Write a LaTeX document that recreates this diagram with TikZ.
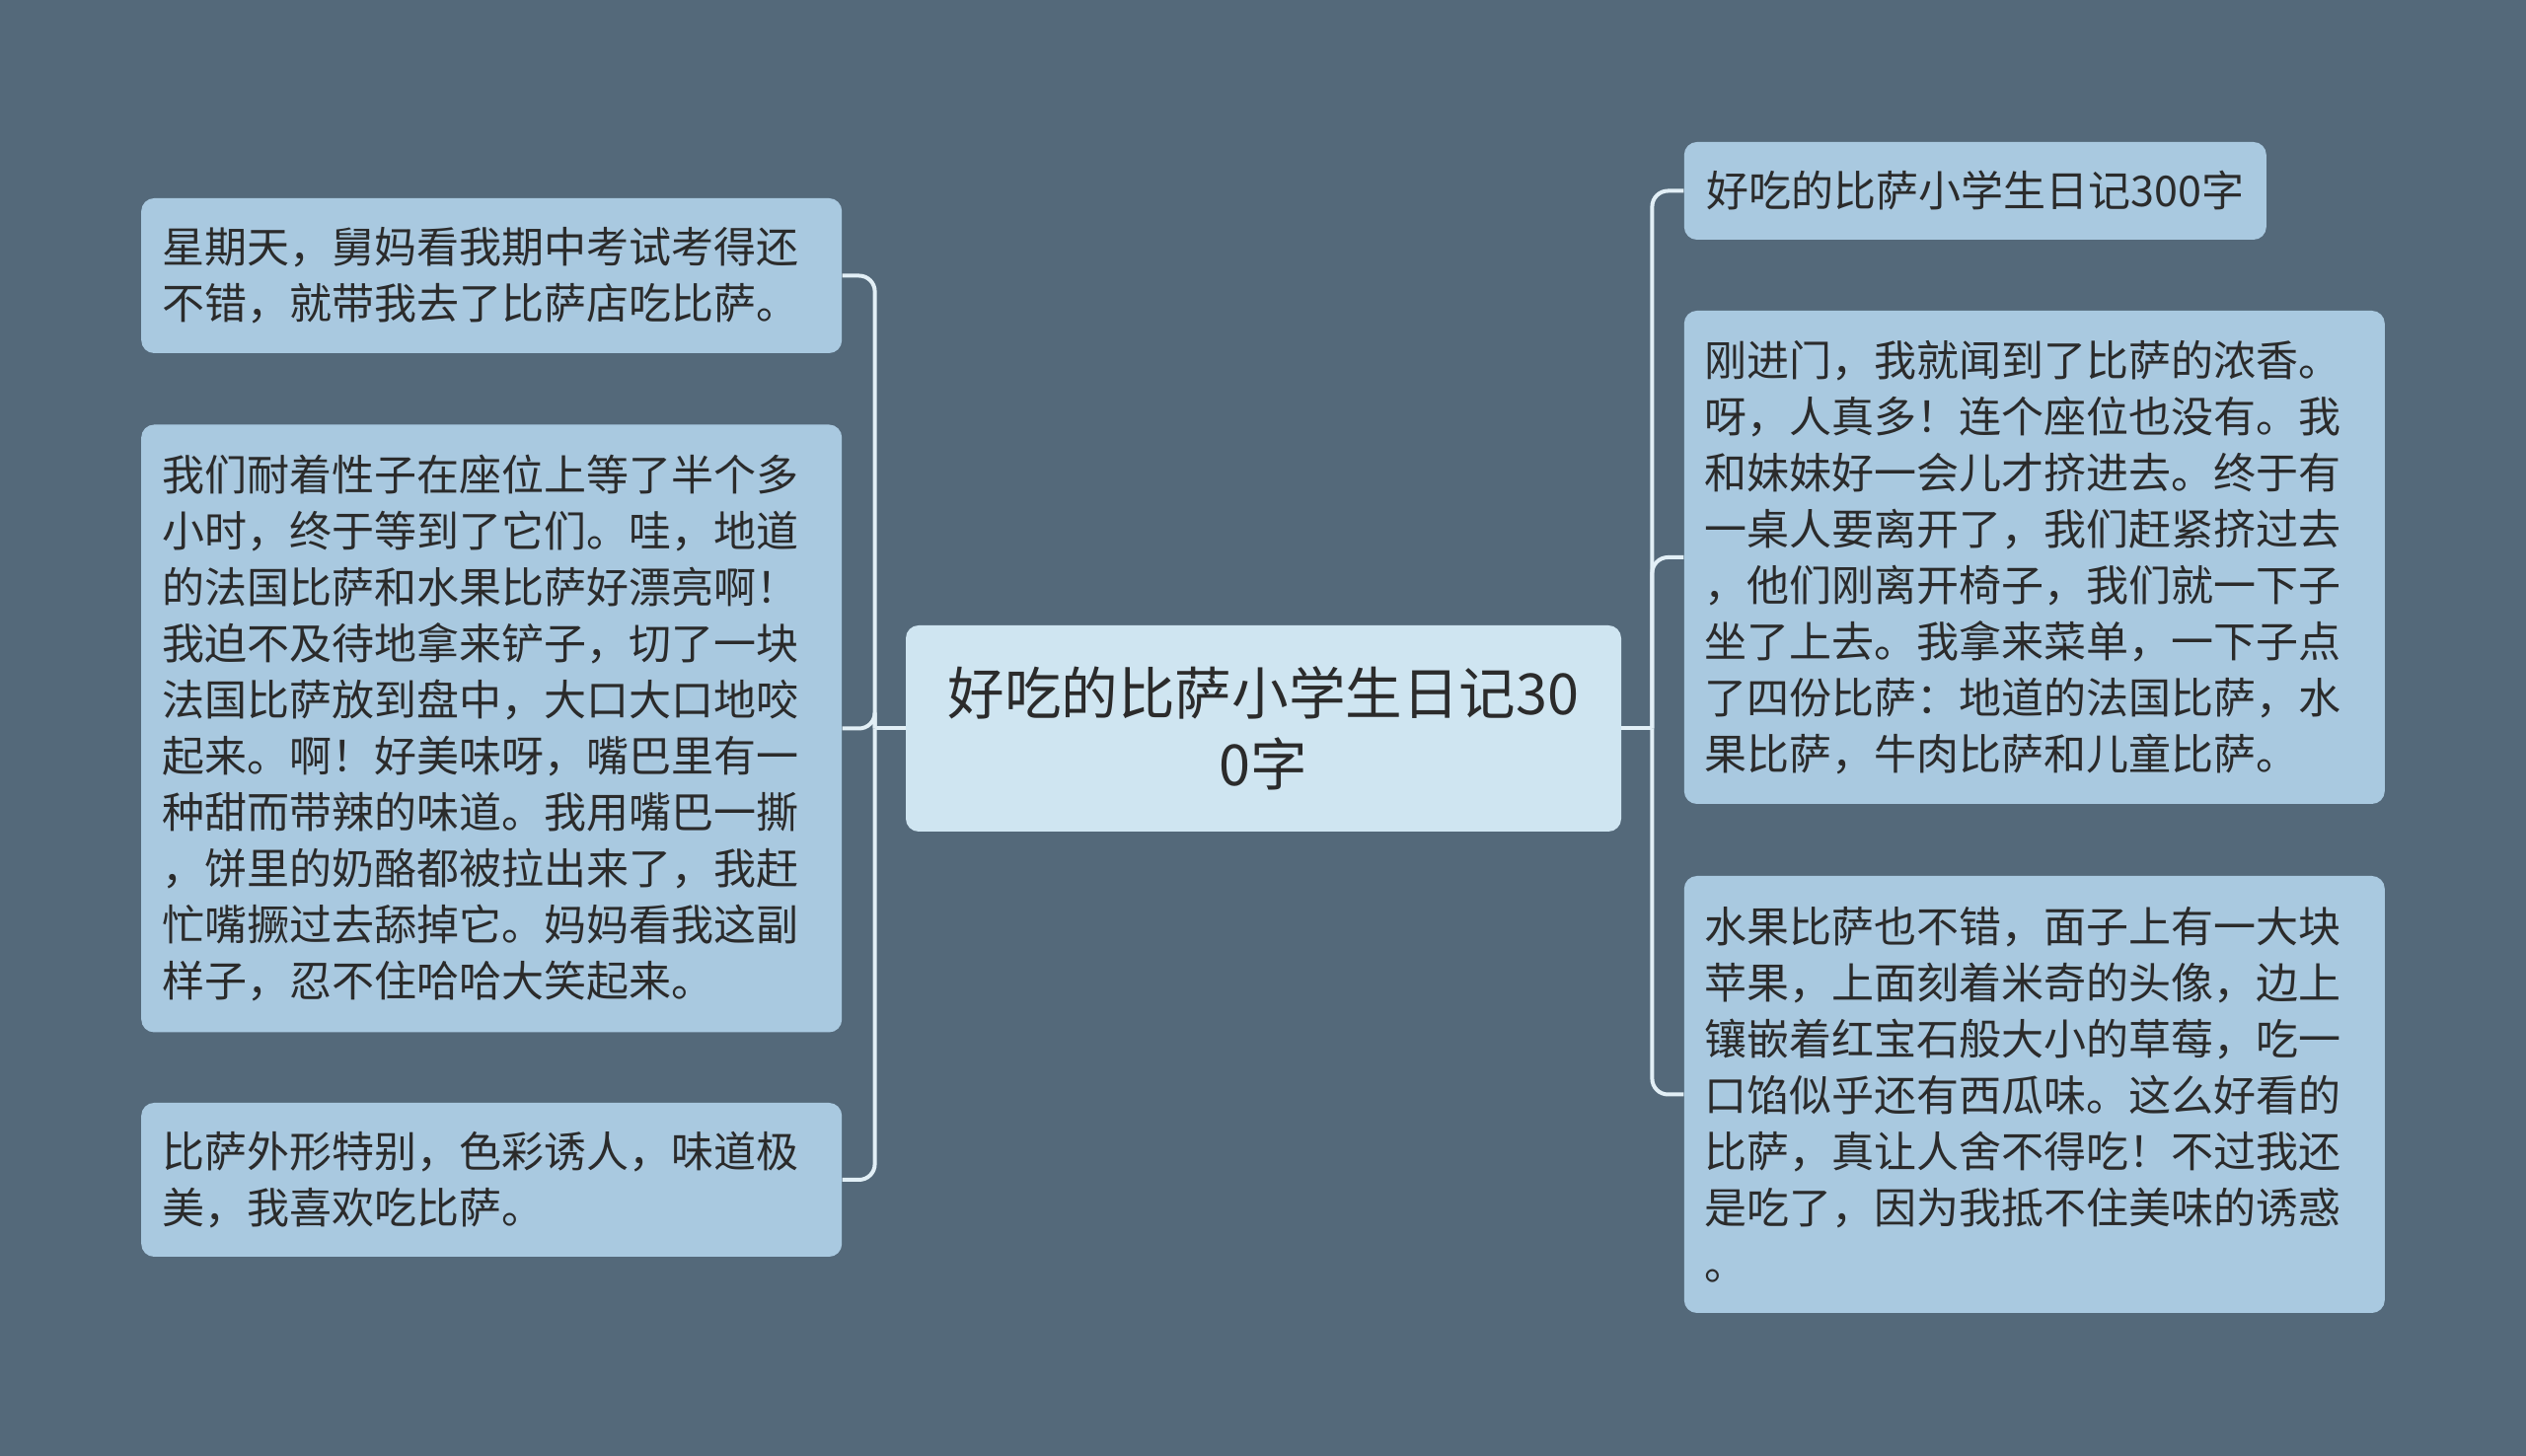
\documentclass[tikz,border=0pt]{standalone}
\usepackage{fontspec}
\setmainfont{Noto Sans CJK SC}
\usepackage{tikz}
\usetikzlibrary{positioning}
\definecolor{bgslate}{HTML}{54697A}
\definecolor{leafblue}{HTML}{A9C9E0}
\definecolor{hubblue}{HTML}{CFE5F1}
\definecolor{linkwhite}{HTML}{E2EFF6}
\definecolor{inkgray}{HTML}{2B2B2B}
\tikzstyle{phub} = [rectangle, rounded corners=6.5pt, fill=hubblue, text=inkgray, text width=341.5pt, minimum height=104.5pt, inner xsep=10.5pt, align=center, font=\fontsize{28.8pt}{36pt}\selectfont]
\tikzstyle{pleaf} = [rectangle, rounded corners=6.5pt, fill=leafblue, text=inkgray, text width=334pt, inner xsep=10.5pt, align=left, font=\fontsize{21.5pt}{28.5pt}\selectfont]
\tikzstyle{ptitle} = [rectangle, rounded corners=6.5pt, fill=leafblue, text=inkgray, minimum width=295pt, minimum height=49.5pt, inner xsep=10.5pt, font=\fontsize{21.5pt}{28.5pt}\selectfont]
\tikzstyle{plink} = [draw=linkwhite, line width=2pt, rounded corners=8pt]

\begin{document}
\begin{tikzpicture}
\fill [bgslate] (0,0) rectangle (1280pt,738pt);
\useasboundingbox (0,0) rectangle (1280pt,738pt);
\node (hub) [phub] at (640.25pt,368.75pt) {好吃的比萨小学生日记30\\0字};
\node (sunday) [pleaf, minimum height=78.5pt, left=32pt of hub.west, yshift=229.5pt] {星期天，舅妈看我期中考试考得还\\不错，就带我去了比萨店吃比萨。};
\node (waiting) [pleaf, minimum height=308pt, left=32pt of hub.west] {我们耐着性子在座位上等了半个多\\小时，终于等到了它们。哇，地道\\的法国比萨和水果比萨好漂亮啊！\\我迫不及待地拿来铲子，切了一块\\法国比萨放到盘中，大口大口地咬\\起来。啊！好美味呀，嘴巴里有一\\种甜而带辣的味道。我用嘴巴一撕\\，饼里的奶酪都被拉出来了，我赶\\忙嘴撅过去舔掉它。妈妈看我这副\\样子，忍不住哈哈大笑起来。};
\node (liking) [pleaf, minimum height=78pt, left=32pt of hub.west, yshift=-228.75pt] {比萨外形特别，色彩诱人，味道极\\美，我喜欢吃比萨。};
\node (title) [ptitle, right=31.5pt of hub.east, yshift=272.5pt] {好吃的比萨小学生日记300字};
\node (entering) [pleaf, minimum height=250pt, right=31.5pt of hub.east, yshift=86.75pt] {刚进门，我就闻到了比萨的浓香。\\呀，人真多！连个座位也没有。我\\和妹妹好一会儿才挤进去。终于有\\一桌人要离开了，我们赶紧挤过去\\，他们刚离开椅子，我们就一下子\\坐了上去。我拿来菜单，一下子点\\了四份比萨：地道的法国比萨，水\\果比萨，牛肉比萨和儿童比萨。};
\node (fruit) [pleaf, minimum height=221.5pt, right=31.5pt of hub.east, yshift=-185.5pt] {水果比萨也不错，面子上有一大块\\苹果，上面刻着米奇的头像，边上\\镶嵌着红宝石般大小的草莓，吃一\\口馅似乎还有西瓜味。这么好看的\\比萨，真让人舍不得吃！不过我还\\是吃了，因为我抵不住美味的诱惑\\。};
\coordinate [left=15.5pt of hub.west] (lfork);
\coordinate [right=15.5pt of hub.east] (rfork);
\draw [plink] (hub.west) -- (lfork);
\draw [plink] (lfork) |- (sunday.east);
\draw [plink] (lfork) |- (waiting.east);
\draw [plink] (lfork) |- (liking.east);
\draw [plink] (hub.east) -- (rfork);
\draw [plink] (rfork) |- (title.west);
\draw [plink] (rfork) |- (entering.west);
\draw [plink] (rfork) |- (fruit.west);
\end{tikzpicture}
\end{document}
